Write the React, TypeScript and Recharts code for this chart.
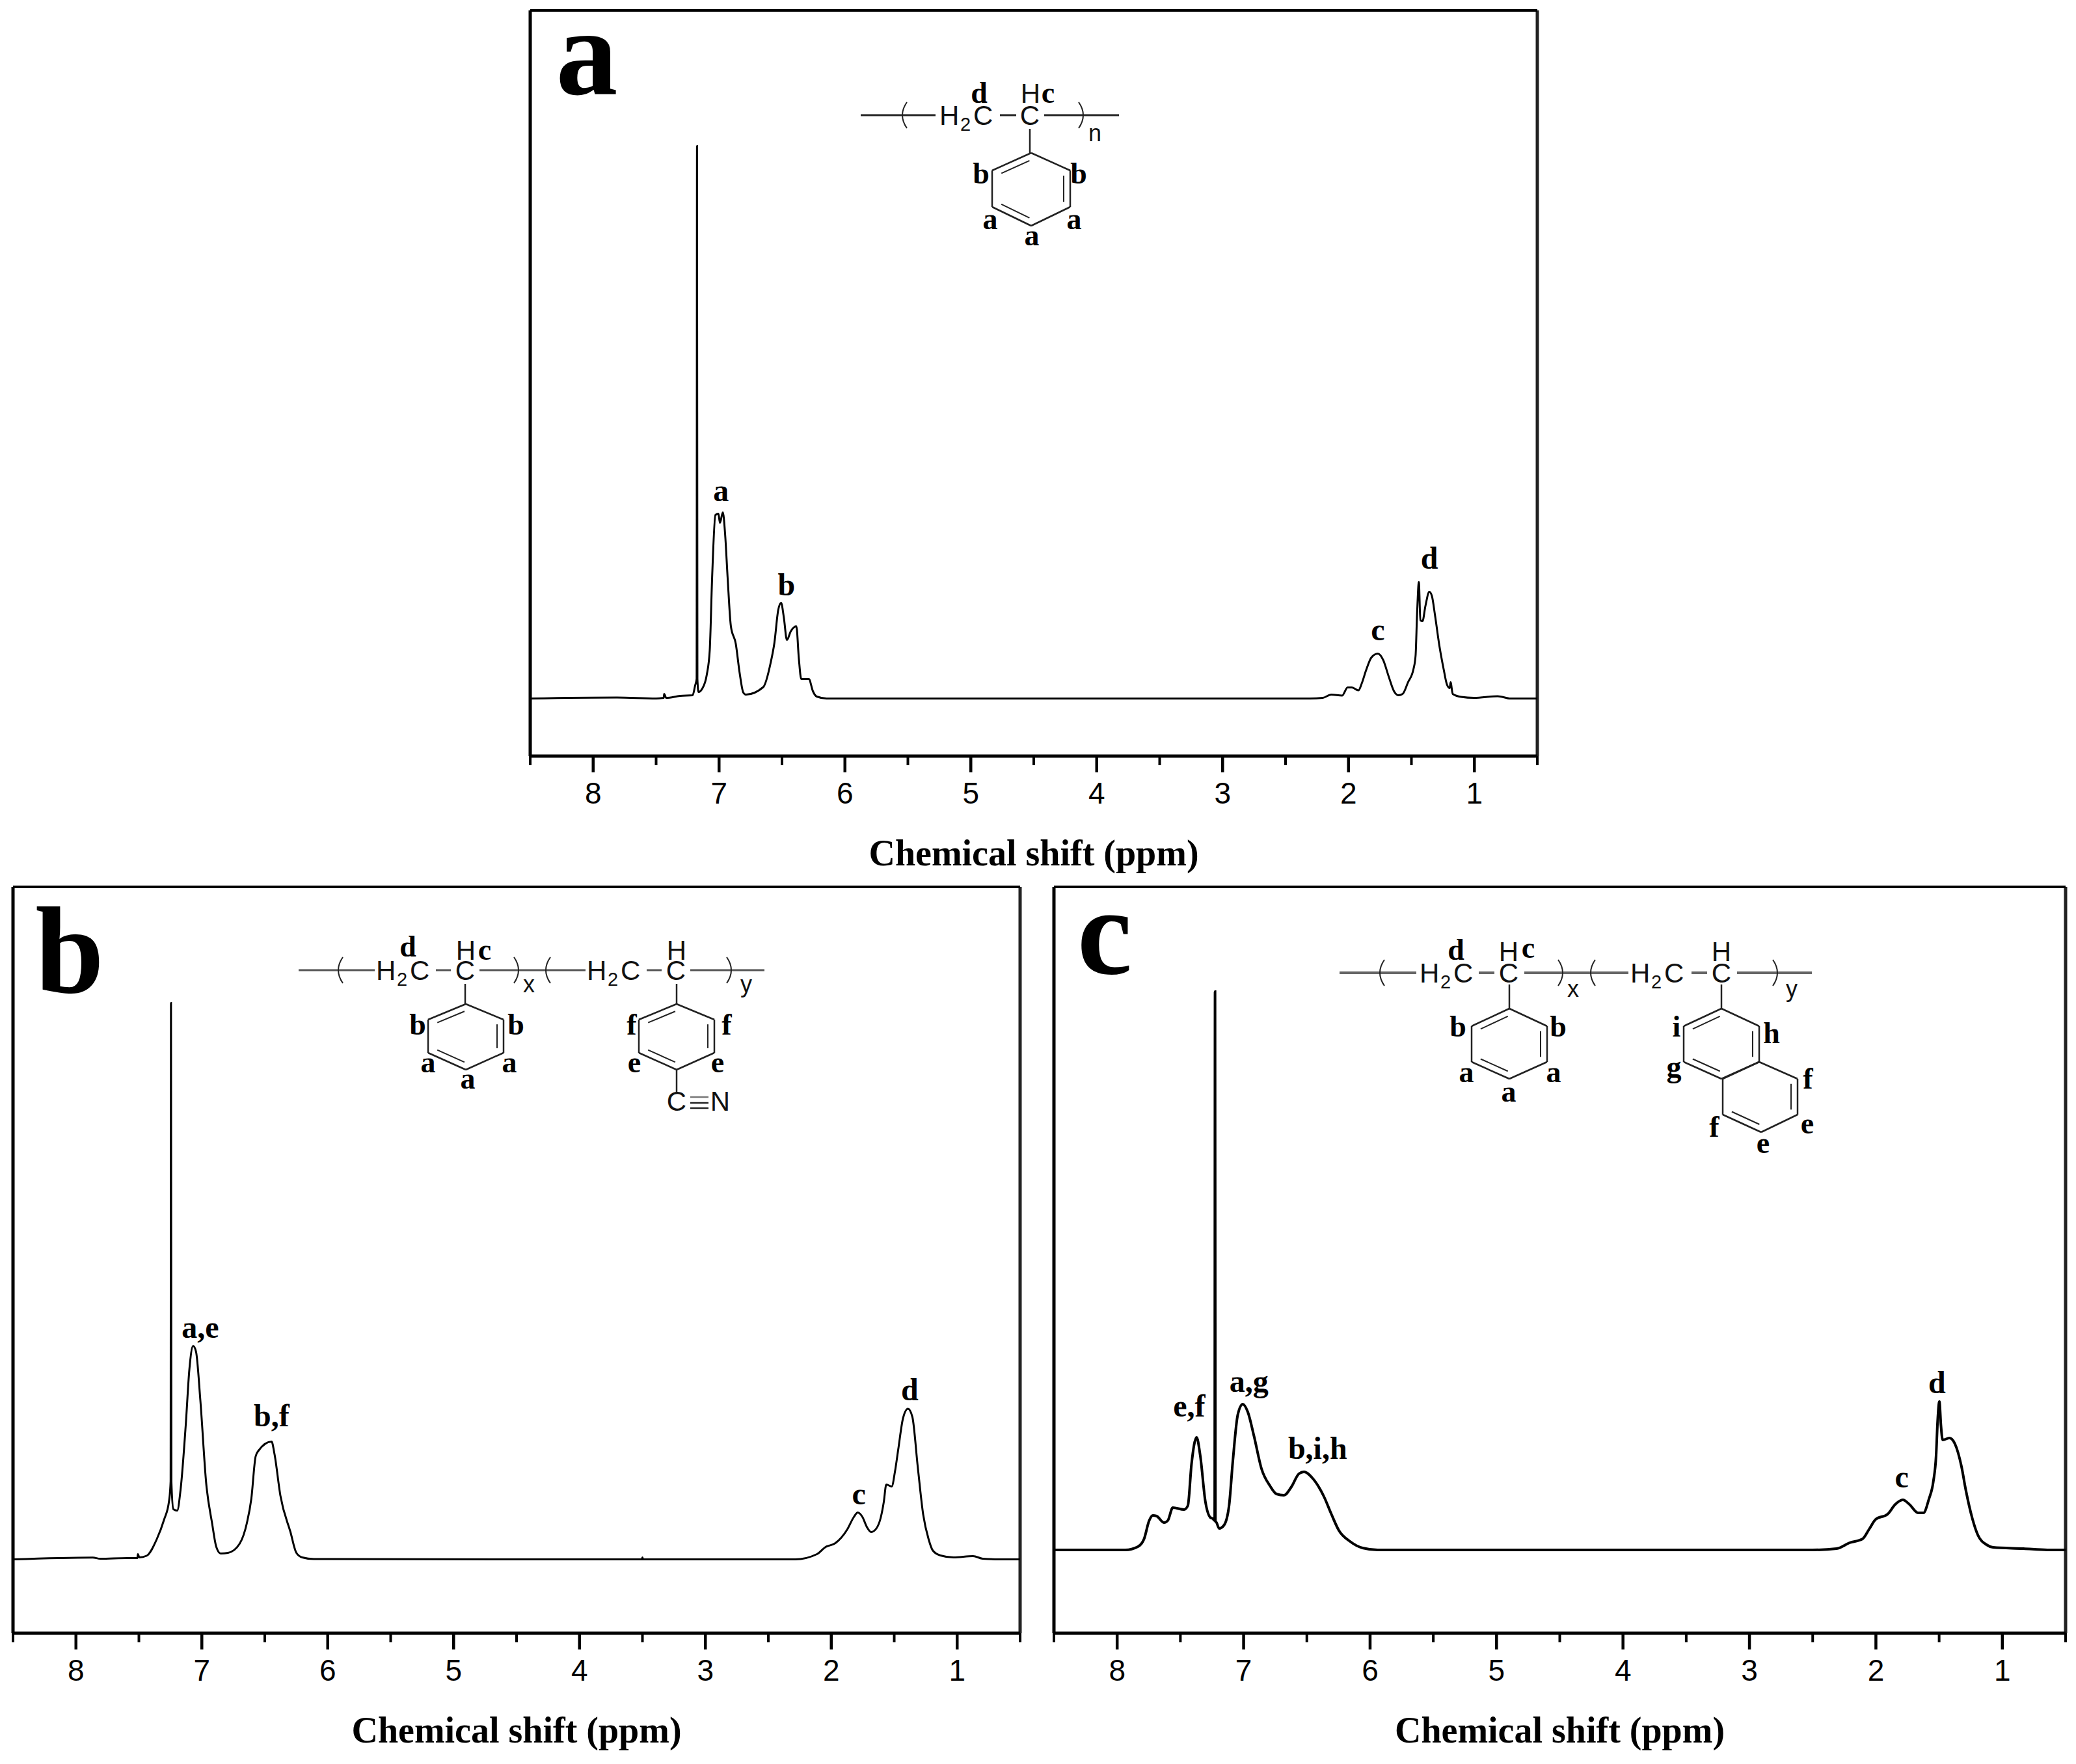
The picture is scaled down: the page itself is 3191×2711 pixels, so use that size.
/**
 * App.tsx
 *
 * Three 1H NMR spectra (panels a, b, c) drawn with Recharts line charts,
 * plus a plain SVG overlay for the polymer structure sketches.
 * Intensity is in picture units above each spectrum's baseline.
 */

import { LineChart, Line, XAxis, YAxis, ReferenceDot, ReferenceLine, Label } from 'recharts';

// ─── Data ─────────────────────────────────────────────────────────────────────

const xTicks = [8.5, 8, 7.5, 7, 6.5, 6, 5.5, 5, 4.5, 4, 3.5, 3, 2.5, 2, 1.5, 1, 0.5];
const xTitle = 'Chemical shift (ppm)';

const ppmA = [
  8.5, 7.81, 7.5, 7.44, 7.436, 7.42, 7.31, 7.21, 7.19, 7.178, 7.175, 7.172, 7.163, 7.134, 7.098, 7.074,
  7.055, 7.029, 7.005, 6.993, 6.97, 6.952, 6.932, 6.906, 6.867, 6.837, 6.807, 6.787, 6.649, 6.59,
  6.56, 6.53, 6.507, 6.485, 6.461, 6.431, 6.386, 6.366, 6.347, 6.287, 6.254, 6.224, 6.145, 2.307,
  2.204, 2.136, 2.05, 2.007, 1.973, 1.921, 1.895, 1.861, 1.818, 1.767, 1.724, 1.681, 1.638, 1.604,
  1.57, 1.527, 1.484, 1.467, 1.455, 1.441, 1.429, 1.412, 1.389, 1.358, 1.338, 1.312, 1.278, 1.244,
  1.218, 1.196, 1.189, 1.172, 1.106, 1.003, 0.815, 0.712, 0.5,
];
const intensityA = [
  0, 1.5, 0, 1, 7, 1, 4, 5, 20, 30, 849, 30, 10, 15, 36, 74,
  186, 282, 284, 270, 286, 253, 186, 111, 84, 40, 9, 6, 17.5, 55,
  86, 136, 147, 124, 90, 103, 111, 61, 30, 30, 11, 3, 0, 0,
  1, 6, 4.6, 17, 17, 12.5, 23, 43, 63, 69, 59, 34, 11, 5,
  7, 25, 45, 66, 131, 179, 120, 119, 142, 164, 158, 127, 81, 45,
  21.5, 16, 25, 7, 2.5, 1, 3.6, 0, 0,
];

const ppmB = [
  8.5, 7.866, 7.808, 7.589, 7.512, 7.508, 7.497, 7.439, 7.358, 7.3, 7.261, 7.248, 7.245, 7.242, 7.226, 7.196,
  7.169, 7.127, 7.099, 7.069, 7.046, 7.012, 6.965, 6.919, 6.885, 6.85, 6.792, 6.7, 6.642, 6.607,
  6.573, 6.55, 6.446, 6.423, 6.376, 6.296, 6.249, 6.203, 6.11, 3.505, 3.5, 3.495, 2.286, 2.114,
  2.045, 1.967, 1.873, 1.821, 1.79, 1.752, 1.718, 1.683, 1.64, 1.606, 1.583, 1.563, 1.52, 1.494,
  1.468, 1.43, 1.391, 1.356, 1.313, 1.27, 1.227, 1.193, 1.133, 1.029, 0.874, 0.797, 0.668, 0.5,
];
const intensityB = [
  0, 2.8, 1, 2, 2, 8, 3, 5.5, 31, 61, 89, 120, 855, 120, 77, 75,
  107, 209, 292, 328, 319, 245, 116, 56, 19, 9, 10, 24, 56, 93,
  158, 167, 181, 162, 98, 42, 10, 3, 0.5, 0, 3, 0, 0, 8,
  19, 25, 46, 65, 72, 65, 50, 42, 48, 65, 88, 115, 112, 135,
  169, 217, 231.5, 219, 142, 69, 31, 13.5, 6, 3, 5, 1, 0, 0,
];

const ppmC = [
  8.5, 7.935, 7.836, 7.787, 7.747, 7.718, 7.688, 7.629, 7.6, 7.56, 7.471, 7.441, 7.412, 7.372, 7.343, 7.303,
  7.264, 7.244, 7.229, 7.226, 7.223, 7.214, 7.194, 7.155, 7.115, 7.086, 7.046, 7.007, 6.967, 6.918,
  6.859, 6.79, 6.74, 6.681, 6.622, 6.563, 6.523, 6.454, 6.365, 6.306, 6.247, 6.158, 6.059, 5.94,
  2.5, 2.311, 2.208, 2.105, 2.053, 2.002, 1.907, 1.847, 1.787, 1.735, 1.667, 1.624, 1.581, 1.546,
  1.524, 1.512, 1.498, 1.486, 1.472, 1.418, 1.375, 1.323, 1.289, 1.237, 1.194, 1.125, 1.074, 0.833,
  0.644, 0.5,
];
const intensityC = [
  0, 0, 5, 17, 45, 53, 52, 42, 45, 65, 62, 68, 132, 173, 145, 75,
  50, 48, 45, 858, 44, 42, 33, 38, 68, 135, 208, 224, 212, 175,
  125, 98, 86, 84, 97, 117, 120, 110, 82, 55, 30, 13, 3, 0,
  0, 2, 11, 17, 32, 47, 55, 70, 77, 70, 57, 57, 78, 105,
  145, 198, 228, 192, 169, 172, 163, 128, 92, 48, 23, 8, 4, 2,
  0, 0,
];

const labelsA = ['a', 'b', 'c', 'd'];
const labelPpmA = [6.985, 6.465, 1.767, 1.358];
const labelLevelA = [304, 159, 90, 200];

const labelsB = ['a,e', 'b,f', 'c', 'd'];
const labelPpmB = [7.012, 6.446, 1.781, 1.377];
const labelLevelB = [341, 205, 85, 245];

const labelsC = ['e,f', 'a,g', 'b,i,h', 'c', 'd'];
const labelPpmC = [7.431, 6.958, 6.415, 1.796, 1.517];
const labelLevelC = [205, 243, 140, 96, 241];

// ─── Styles ───────────────────────────────────────────────────────────────────

const SERIF = '"Liberation Serif", serif';
const SANS = '"Liberation Sans", sans-serif';
const MARGIN_X = 12;
const MARGIN_TOP = 8;
const AXIS_HEIGHT = 190;

// ─── Chart parts ──────────────────────────────────────────────────────────────

function PpmTick({ x, y, payload }: any) {
  const major = Number.isInteger(payload.value);
  return (
    <g>
      <line x1={x} x2={x} y1={y} y2={y + (major ? 25 : 14)} stroke="#000" strokeWidth={major ? 4.5 : 4} />
      {major && (
        <text x={x} y={y + 73} textAnchor="middle" fontFamily={SANS} fontSize={46} fill="#000">
          {payload.value}
        </text>
      )}
    </g>
  );
}

function PeakText({ cx, cy, text }: any) {
  return (
    <text x={cx} y={cy} textAnchor="middle" fontFamily={SERIF} fontWeight="bold" fontSize={48} fill="#000">
      {text}
    </text>
  );
}

interface PanelProps {
  ppm: number[];
  intensity: number[];
  names: string[];
  namePpm: number[];
  nameLevel: number[];
  left: number;
  right: number;
  top: number;
  bottom: number;
  baseline: number;
  lineWidth: number;
}

function Panel({ ppm, intensity, names, namePpm, nameLevel, left, right, top, bottom, baseline, lineWidth }: PanelProps) {
  const rows = ppm.map((p, i) => ({ ppm: p, intensity: intensity[i] }));
  const yDomain = [baseline - bottom, baseline - top];
  const width = right - left + MARGIN_X * 2;
  const height = bottom - top + MARGIN_TOP + AXIS_HEIGHT;

  return (
    <div style={{ position: 'absolute', left: left - MARGIN_X, top: top - MARGIN_TOP }}>
      <LineChart
        width={width}
        height={height}
        data={rows}
        margin={{ top: MARGIN_TOP, right: MARGIN_X, bottom: 0, left: MARGIN_X }}
      >
        <XAxis
          dataKey="ppm"
          type="number"
          domain={[0.5, 8.5]}
          reversed
          allowDataOverflow
          ticks={xTicks}
          interval={0}
          height={AXIS_HEIGHT}
          tickLine={false}
          tickSize={0}
          tickMargin={0}
          tick={<PpmTick />}
          axisLine={{ stroke: '#000', strokeWidth: 5 }}
        >
          <Label
            value={xTitle}
            position="insideBottom"
            offset={22}
            style={{ fontFamily: SERIF, fontWeight: 'bold', fontSize: 56, fill: '#000' }}
          />
        </XAxis>
        <YAxis type="number" domain={yDomain} allowDataOverflow hide />
        <ReferenceLine x={8.5} stroke="#000" strokeWidth={5} />
        <ReferenceLine x={0.5} stroke="#222" strokeWidth={5} />
        <ReferenceLine y={baseline - top} stroke="#000" strokeWidth={4} />
        <Line
          dataKey="intensity"
          type="monotoneX"
          stroke="#000"
          strokeWidth={lineWidth}
          dot={false}
          isAnimationActive={false}
        />
        {names.map((name, i) => (
          <ReferenceDot
            key={name}
            x={namePpm[i]}
            y={nameLevel[i]}
            r={0}
            ifOverflow="visible"
            shape={(props: any) => <PeakText {...props} text={name} />}
          />
        ))}
      </LineChart>
    </div>
  );
}

// ─── Structure sketches ───────────────────────────────────────────────────────

type Pt = [number, number];

function Bond({ from, to, width = 2.5, color = '#222' }: { from: Pt; to: Pt; width?: number; color?: string }) {
  return <line x1={from[0]} y1={from[1]} x2={to[0]} y2={to[1]} stroke={color} strokeWidth={width} />;
}

function DoubleBond({ from, to, center }: { from: Pt; to: Pt; center: Pt }) {
  const mx = (from[0] + to[0]) / 2;
  const my = (from[1] + to[1]) / 2;
  const dx = center[0] - mx;
  const dy = center[1] - my;
  const len = Math.hypot(dx, dy);
  const ox = (dx / len) * 10;
  const oy = (dy / len) * 10;
  const a: Pt = [from[0] + (to[0] - from[0]) * 0.14 + ox, from[1] + (to[1] - from[1]) * 0.14 + oy];
  const b: Pt = [to[0] + (from[0] - to[0]) * 0.14 + ox, to[1] + (from[1] - to[1]) * 0.14 + oy];
  return (
    <>
      <Bond from={from} to={to} />
      <Bond from={a} to={b} width={2} />
    </>
  );
}

// Six vertices clockwise from the top; doubles lists the edges with an inner line.
function Ring({ points, doubles }: { points: Pt[]; doubles: number[] }) {
  const center: Pt = [
    points.reduce((s, p) => s + p[0], 0) / points.length,
    points.reduce((s, p) => s + p[1], 0) / points.length,
  ];
  return (
    <>
      {points.map((p, i) => {
        const q = points[(i + 1) % points.length];
        return doubles.includes(i) ? (
          <DoubleBond key={i} from={p} to={q} center={center} />
        ) : (
          <Bond key={i} from={p} to={q} />
        );
      })}
    </>
  );
}

function hexagon(cx: number, top: number, half: number, upper: number, lower: number, bottom: number): Pt[] {
  return [
    [cx, top],
    [cx + half, top + upper],
    [cx + half, top + lower],
    [cx, top + bottom],
    [cx - half, top + lower],
    [cx - half, top + upper],
  ];
}

function Sans({ x, y, children, size = 42, anchor = 'middle' }: any) {
  return (
    <text x={x} y={y} fontFamily={SANS} fontSize={size} textAnchor={anchor} fill="#111">
      {children}
    </text>
  );
}

function Site({ x, y, children }: any) {
  return (
    <text x={x} y={y} fontFamily={SERIF} fontWeight="bold" fontSize={46} textAnchor="middle" fill="#000">
      {children}
    </text>
  );
}

function Paren({ x, y, open }: { x: number; y: number; open: boolean }) {
  const bulge = open ? -7 : 7;
  return (
    <path d={`M${x} ${y - 20} Q${x + bulge * 2} ${y} ${x} ${y + 20}`} fill="none" stroke="#222" strokeWidth={2} />
  );
}

function Methylene({ x, y }: { x: number; y: number }) {
  return (
    <>
      <Sans x={x} y={y} anchor="start">H</Sans>
      <Sans x={x + 32} y={y + 9} size={29} anchor="start">2</Sans>
      <Sans x={x + 52} y={y} anchor="start">C</Sans>
    </>
  );
}

function StructureA() {
  const y = 177;
  return (
    <>
      <Bond from={[1323, y]} to={[1438, y]} width={3} />
      <Paren x={1394} y={y} open />
      <Methylene x={1444} y={192} />
      <Bond from={[1537, y]} to={[1562, y]} width={3} />
      <Sans x={1583} y={192}>C</Sans>
      <Bond from={[1605, y]} to={[1720, y]} width={3} />
      <Paren x={1658} y={y} open={false} />
      <Sans x={1683} y={217} size={36}>n</Sans>
      <Sans x={1584} y={158}>H</Sans>
      <Site x={1611} y={158}>c</Site>
      <Site x={1505} y={158}>d</Site>
      <Bond from={[1583, 198]} to={[1583, 235]} />
      <Ring points={hexagon(1585, 235, 60, 27, 83, 112)} doubles={[1, 3, 5]} />
      <Site x={1508} y={282}>b</Site>
      <Site x={1658} y={282}>b</Site>
      <Site x={1522} y={352}>a</Site>
      <Site x={1651} y={352}>a</Site>
      <Site x={1586} y={377}>a</Site>
    </>
  );
}

function StructureB() {
  const y = 1491;
  return (
    <>
      <Bond from={[459, y]} to={[576, y]} width={3} color="#555" />
      <Paren x={527} y={y} open />
      <Methylene x={578} y={1506} />
      <Bond from={[670, y]} to={[693, y]} width={3} color="#555" />
      <Sans x={715} y={1506}>C</Sans>
      <Bond from={[737, y]} to={[900, y]} width={3} color="#555" />
      <Paren x={790} y={y} open={false} />
      <Sans x={813} y={1525} size={36}>x</Sans>
      <Paren x={846} y={y} open />
      <Methylene x={902} y={1506} />
      <Bond from={[994, y]} to={[1017, y]} width={3} color="#555" />
      <Sans x={1039} y={1506}>C</Sans>
      <Bond from={[1061, y]} to={[1175, y]} width={3} color="#555" />
      <Paren x={1117} y={y} open={false} />
      <Sans x={1147} y={1525} size={36}>y</Sans>
      <Sans x={716} y={1475}>H</Sans>
      <Site x={745} y={1475}>c</Site>
      <Site x={627} y={1470}>d</Site>
      <Sans x={1040} y={1475}>H</Sans>
      <Bond from={[715, 1512]} to={[715, 1543]} />
      <Ring points={hexagon(716, 1543, 58, 24, 75, 101)} doubles={[1, 3, 5]} />
      <Site x={642} y={1590}>b</Site>
      <Site x={793} y={1590}>b</Site>
      <Site x={658} y={1648}>a</Site>
      <Site x={783} y={1648}>a</Site>
      <Site x={719} y={1673}>a</Site>
      <Bond from={[1040, 1512]} to={[1040, 1543]} />
      <Ring points={hexagon(1040, 1543, 58, 24, 75, 101)} doubles={[1, 3, 5]} />
      <Site x={971} y={1590}>f</Site>
      <Site x={1117} y={1590}>f</Site>
      <Site x={975} y={1648}>e</Site>
      <Site x={1103} y={1648}>e</Site>
      <Bond from={[1040, 1644]} to={[1040, 1678]} />
      <Sans x={1040} y={1707}>C</Sans>
      <Bond from={[1061, 1686]} to={[1089, 1686]} color="#777" />
      <Bond from={[1061, 1695]} to={[1089, 1695]} />
      <Bond from={[1061, 1703]} to={[1089, 1703]} />
      <Sans x={1107} y={1707}>N</Sans>
    </>
  );
}

function StructureC() {
  const y = 1495;
  const ring2 = hexagon(2646, 1550, 58, 27, 82, 108);
  const ring3: Pt[] = [[2704, 1632], [2763, 1658], [2763, 1713], [2707, 1740], [2648, 1713], [2648, 1658]];
  return (
    <>
      <Bond from={[2059, y]} to={[2177, y]} width={4} color="#666" />
      <Paren x={2128} y={y} open />
      <Methylene x={2182} y={1510} />
      <Bond from={[2273, y]} to={[2297, y]} width={4} color="#666" />
      <Sans x={2319} y={1510}>C</Sans>
      <Bond from={[2343, y]} to={[2503, y]} width={4} color="#666" />
      <Paren x={2395} y={y} open={false} />
      <Sans x={2418} y={1532} size={36}>x</Sans>
      <Paren x={2452} y={y} open />
      <Methylene x={2506} y={1510} />
      <Bond from={[2600, y]} to={[2624, y]} width={4} color="#666" />
      <Sans x={2646} y={1510}>C</Sans>
      <Bond from={[2670, y]} to={[2785, y]} width={4} color="#666" />
      <Paren x={2725} y={y} open={false} />
      <Sans x={2754} y={1532} size={36}>y</Sans>
      <Sans x={2319} y={1477}>H</Sans>
      <Site x={2349} y={1472}>c</Site>
      <Site x={2238} y={1475}>d</Site>
      <Sans x={2646} y={1477}>H</Sans>
      <Bond from={[2320, 1513]} to={[2320, 1550]} />
      <Ring points={hexagon(2320, 1550, 58, 27, 82, 108)} doubles={[1, 3, 5]} />
      <Site x={2241} y={1593}>b</Site>
      <Site x={2395} y={1593}>b</Site>
      <Site x={2254} y={1663}>a</Site>
      <Site x={2388} y={1663}>a</Site>
      <Site x={2319} y={1693}>a</Site>
      <Bond from={[2646, 1513]} to={[2646, 1550]} />
      <Ring points={ring2} doubles={[1, 3, 5]} />
      <Ring points={ring3} doubles={[1, 3]} />
      <Site x={2577} y={1593}>i</Site>
      <Site x={2723} y={1603}>h</Site>
      <Site x={2573} y={1655}>g</Site>
      <Site x={2779} y={1673}>f</Site>
      <Site x={2778} y={1742}>e</Site>
      <Site x={2710} y={1772}>e</Site>
      <Site x={2635} y={1747}>f</Site>
    </>
  );
}

function PanelLetter({ x, y, children }: any) {
  return (
    <text x={x} y={y} fontFamily={SERIF} fontWeight="bold" fontSize={190} textAnchor="middle" fill="#000">
      {children}
    </text>
  );
}

// ─── Main Export ──────────────────────────────────────────────────────────────

export default function App() {
  return (
    <div style={{ position: 'absolute', left: 0, top: 0, width: 3191, height: 2711, background: '#fff', overflow: 'hidden' }}>
      <Panel
        ppm={ppmA}
        intensity={intensityA}
        names={labelsA}
        namePpm={labelPpmA}
        nameLevel={labelLevelA}
        left={815}
        right={2363}
        top={16}
        bottom={1162}
        baseline={1073.5}
        lineWidth={3}
      />
      <Panel
        ppm={ppmB}
        intensity={intensityB}
        names={labelsB}
        namePpm={labelPpmB}
        nameLevel={labelLevelB}
        left={20}
        right={1568}
        top={1363}
        bottom={2510}
        baseline={2396.5}
        lineWidth={3}
      />
      <Panel
        ppm={ppmC}
        intensity={intensityC}
        names={labelsC}
        namePpm={labelPpmC}
        nameLevel={labelLevelC}
        left={1620}
        right={3175}
        top={1363}
        bottom={2510}
        baseline={2382}
        lineWidth={4}
      />
      <svg width={3191} height={2711} style={{ position: 'absolute', left: 0, top: 0, pointerEvents: 'none' }}>
        <PanelLetter x={902} y={145}>a</PanelLetter>
        <PanelLetter x={107} y={1526}>b</PanelLetter>
        <PanelLetter x={1698} y={1496}>c</PanelLetter>
        <StructureA />
        <StructureB />
        <StructureC />
      </svg>
    </div>
  );
}
